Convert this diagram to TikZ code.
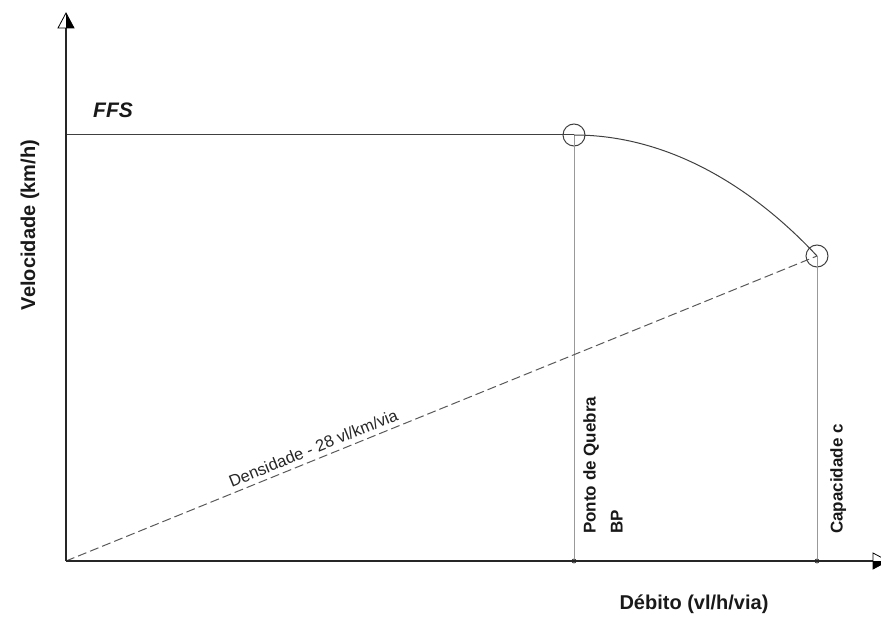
\documentclass[tikz,border=0pt]{standalone}
\usepackage{fontspec}
\setmainfont{Liberation Sans}
\begin{document}
\begin{tikzpicture}[x=1pt,y=-1pt,
  axis/.style={draw=black!85, line width=1.3pt},
  ffsline/.style={draw=black!75, line width=1pt},
  guide/.style={draw=black!40, line width=0.9pt},
  densline/.style={draw=black!65, line width=1pt, dash pattern=on 9pt off 4pt},
  mark circle/.style={circle, draw=black!75, line width=1pt, minimum size=22pt, inner sep=0pt},
  tick dot/.style={circle, draw=black!80, fill=white, line width=0.8pt, minimum size=4pt, inner sep=0pt},
  lbl/.style={font=\fontsize{17}{27}\selectfont\bfseries, text=black!90, inner sep=0pt},
  ]
\useasboundingbox (0,0) rectangle (881,617);
% key points
\coordinate (O) at (66,561);
\coordinate (Ytip) at (66,13);
\coordinate (Ybase) at (66,28);
\coordinate (Xtip) at (888,561);
\coordinate (Xbase) at (873,561);
\coordinate (F0) at (66,135);
\node[mark circle] (BP) at (574,135) {};
\node[mark circle] (CC) at (817,256) {};
\node[tick dot] (BPx) at (574,561) {};
\node[tick dot] (CCx) at (817,561) {};
% guides
\draw[guide] (BP.center) -- (BPx);
\draw[guide] (CC.center) -- (CCx);
% density line
\draw[densline] (O) -- (CC.center)
  node[pos=0.335, sloped, above=5pt, inner sep=0pt, font=\fontsize{16.5}{18}\selectfont, text=black!85] (dens) {Densidade - 28 vl/km/via};
% FFS line and curve
\draw[ffsline] (F0) -- (BP.center);
\draw[ffsline] (BP.center) .. controls (680,135) and (765,200) .. (CC.center);
% axes
\draw[axis] (O) -- (Ybase);
\draw[axis] (O) -- (Xbase);
% arrowheads (half open, half filled)
\draw[fill=white, draw=black, line width=0.8pt] (Ytip) -- (58,28) -- (74,28) -- cycle;
\fill[black] (Ytip) -- (Ybase) -- (74,28) -- cycle;
\draw[fill=white, draw=black, line width=0.8pt] (Xtip) -- (873,553) -- (873,569) -- cycle;
\fill[black] (Xtip) -- (Xbase) -- (873,569) -- cycle;
% labels
\node[lbl, font=\fontsize{21}{24}\selectfont\bfseries\itshape] (ffs) at (113,110) {FFS};
\node[lbl, rotate=90, font=\fontsize{20}{24}\selectfont\bfseries] (vel) at (30,225) {Velocidade (km/h)};
\node[lbl, font=\fontsize{20}{24}\selectfont\bfseries] (deb) at (694,604) {Débito (vl/h/via)};
\node[lbl, rotate=90, anchor=north west, align=left] (bplbl) at (583,534) {Ponto de Quebra\\BP};
\node[lbl, rotate=90, anchor=north west, align=left] (clbl) at (830,534) {Capacidade c};
\end{tikzpicture}
\end{document}
